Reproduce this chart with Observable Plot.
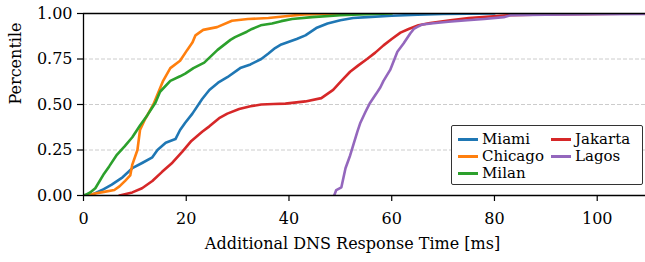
<!DOCTYPE html>
<html>
<head>
<meta charset="utf-8">
<script src="https://cdn.jsdelivr.net/npm/d3@7"></script>
<script src="https://cdn.jsdelivr.net/npm/@observablehq/plot@0.6"></script>
<style>
  body { margin: 0; background: white; }
  #wrap { position: relative; width: 645px; height: 262px; overflow: hidden; font-family: "DejaVu Serif", serif; }
  #legend { position: absolute; left: 451px; top: 125px; width: 190px; height: 58px; border: 1.5px solid #333; border-radius: 2px; background: white; }
  .item { position: absolute; height: 16px; font-size: 15px; line-height: 16px; color: #000; white-space: nowrap; }
  .sw { position: absolute; left: 0; top: 7px; width: 20px; height: 3px; }
  .lb { position: absolute; left: 24px; top: 0; }
</style>
</head>
<body>
<div id="wrap"></div>
<script>
const cities = ["Miami", "Chicago", "Milan", "Jakarta", "Lagos"];
const colors = ["#1f77b4", "#ff7f0e", "#2ca02c", "#d62728", "#9467bd"];
const xTicks = [0, 20, 40, 60, 80, 100];
const yTicks = [0, 0.25, 0.5, 0.75, 1];
const gridY = [0.25, 0.5, 0.75];
const xLabel = "Additional DNS Response Time [ms]";
const yLabel = "Percentile";

const miamiX = [0, 1.7, 3.6, 5.5, 7.6, 9.5, 11.5, 13.4, 14.4, 16, 17.9, 18.8, 19.8, 21.2, 23.1, 24.5, 26.2, 28, 30.5, 32.5, 34.6, 36, 37.3, 38.5, 40, 41.5, 43.2, 45.3, 47.5, 50, 52.5, 55.2, 60, 65, 70, 75, 80];
const miamiY = [0, 0.005, 0.03, 0.06, 0.10, 0.15, 0.18, 0.21, 0.25, 0.29, 0.31, 0.36, 0.40, 0.45, 0.53, 0.58, 0.62, 0.65, 0.70, 0.72, 0.75, 0.78, 0.81, 0.83, 0.845, 0.86, 0.88, 0.92, 0.945, 0.963, 0.975, 0.98, 0.988, 0.993, 0.997, 0.999, 1.0];

const chicagoX = [1, 2, 4, 6, 7, 8.1, 9.1, 9.5, 10.5, 11, 12, 13.6, 15.5, 16.9, 18.8, 20.2, 21.2, 21.8, 23.3, 26, 28.9, 32, 36, 39.3, 43, 47, 50, 55];
const chicagoY = [0, 0.01, 0.02, 0.03, 0.05, 0.08, 0.11, 0.17, 0.25, 0.36, 0.42, 0.50, 0.63, 0.70, 0.74, 0.80, 0.84, 0.88, 0.91, 0.925, 0.96, 0.97, 0.975, 0.985, 0.995, 0.998, 1.0, 1.0];

const milanX = [0, 0.5, 1.3, 2.3, 4, 5, 6.4, 8, 9.5, 11, 12.4, 14, 14.9, 16.9, 18.8, 19.8, 21.4, 23.5, 26.1, 28.6, 29.5, 31.8, 32.8, 34.5, 36.7, 38.5, 40.6, 44.5, 50, 55, 60];
const milanY = [0, 0.005, 0.017, 0.04, 0.12, 0.16, 0.22, 0.27, 0.32, 0.385, 0.44, 0.51, 0.57, 0.63, 0.655, 0.67, 0.70, 0.73, 0.80, 0.855, 0.87, 0.90, 0.915, 0.935, 0.945, 0.958, 0.97, 0.98, 0.99, 0.996, 1.0];

const jakartaX = [7, 9.5, 11.4, 13.4, 15.3, 17.3, 19.2, 21, 23.1, 24.5, 26.4, 28, 30.3, 32.5, 34.6, 37, 39.3, 43.2, 46.3, 48.6, 50.2, 51.9, 53.5, 55.2, 56.8, 58.4, 60, 61.7, 63.3, 65.2, 67.5, 71.4, 75, 82.5, 90, 100, 109.5];
const jakartaY = [0, 0.017, 0.04, 0.08, 0.13, 0.18, 0.24, 0.30, 0.35, 0.38, 0.425, 0.45, 0.475, 0.49, 0.50, 0.503, 0.505, 0.517, 0.535, 0.58, 0.63, 0.68, 0.715, 0.75, 0.785, 0.825, 0.86, 0.895, 0.915, 0.935, 0.948, 0.963, 0.975, 0.99, 0.995, 0.998, 1.0];

const lagosX = [48.8, 49.2, 50.2, 51, 51.9, 52.6, 53.3, 53.9, 54.9, 55.8, 57, 57.8, 58.4, 59.7, 61.1, 62.3, 63.6, 64.3, 64.9, 66, 68.1, 71, 74.7, 78, 81.8, 83.1, 90, 100, 109.5];
const lagosY = [0, 0.03, 0.045, 0.15, 0.22, 0.285, 0.35, 0.40, 0.46, 0.51, 0.56, 0.595, 0.63, 0.69, 0.79, 0.835, 0.89, 0.915, 0.925, 0.94, 0.946, 0.955, 0.963, 0.97, 0.98, 0.99, 0.993, 0.996, 0.998];

const seriesX = [miamiX, chicagoX, milanX, jakartaX, lagosX];
const seriesY = [miamiY, chicagoY, milanY, jakartaY, lagosY];

const data = [];
cities.forEach((c, i) => seriesX[i].forEach((x, j) => data.push({city: c, x, y: seriesY[i][j]})));

const FONT = "'DejaVu Serif', serif";

const chart = Plot.plot({
  width: 645,
  height: 262,
  marginLeft: 83,
  marginRight: 0,
  marginTop: 13,
  marginBottom: 67,
  style: {fontFamily: FONT, fontSize: "16px", background: "white", color: "black", overflow: "visible"},
  x: {domain: [0, 109.4]},
  y: {domain: [0, 1]},
  color: {domain: cities, range: colors},
  marks: [
    Plot.ruleY(gridY, {stroke: "#cccccc", strokeWidth: 1, strokeDasharray: "4,2"}),
    Plot.line(data, {x: "x", y: "y", z: "city", stroke: "city", strokeWidth: 2.6, clip: true}),
    Plot.ruleX([0], {stroke: "black", strokeWidth: 1.3}),
    Plot.ruleY([0, 1], {stroke: "black", strokeWidth: 1.3}),
    Plot.axisX({ticks: xTicks, tickSize: 6, tickPadding: 11, label: null, fontSize: 16, fontFamily: FONT, stroke: "black", strokeWidth: 1.2}),
    Plot.axisY({ticks: yTicks, tickSize: 6, tickPadding: 5, label: null, fontSize: 16, fontFamily: FONT, tickFormat: d3.format(".2f"), stroke: "black", strokeWidth: 1.2}),
    Plot.text([xLabel], {text: d => d, frameAnchor: "bottom", dy: 48.6, dx: -12, fontSize: 16, fontFamily: FONT, lineAnchor: "middle"}),
    Plot.text([yLabel], {text: d => d, frameAnchor: "left", dx: -68, rotate: -90, fontSize: 16, fontFamily: FONT})
  ]
});

const wrap = document.getElementById("wrap");
wrap.appendChild(chart);

const legend = document.createElement("div");
legend.id = "legend";
const pos = [[6, 5], [6, 22], [6, 39], [99, 5], [99, 22]];
cities.forEach((c, i) => {
  const it = document.createElement("div");
  it.className = "item";
  it.style.left = pos[i][0] + "px";
  it.style.top = pos[i][1] + "px";
  const sw = document.createElement("div");
  sw.className = "sw";
  sw.style.background = colors[i];
  const lb = document.createElement("div");
  lb.className = "lb";
  lb.textContent = c;
  it.appendChild(sw);
  it.appendChild(lb);
  legend.appendChild(it);
});
wrap.appendChild(legend);
</script>
</body>
</html>
